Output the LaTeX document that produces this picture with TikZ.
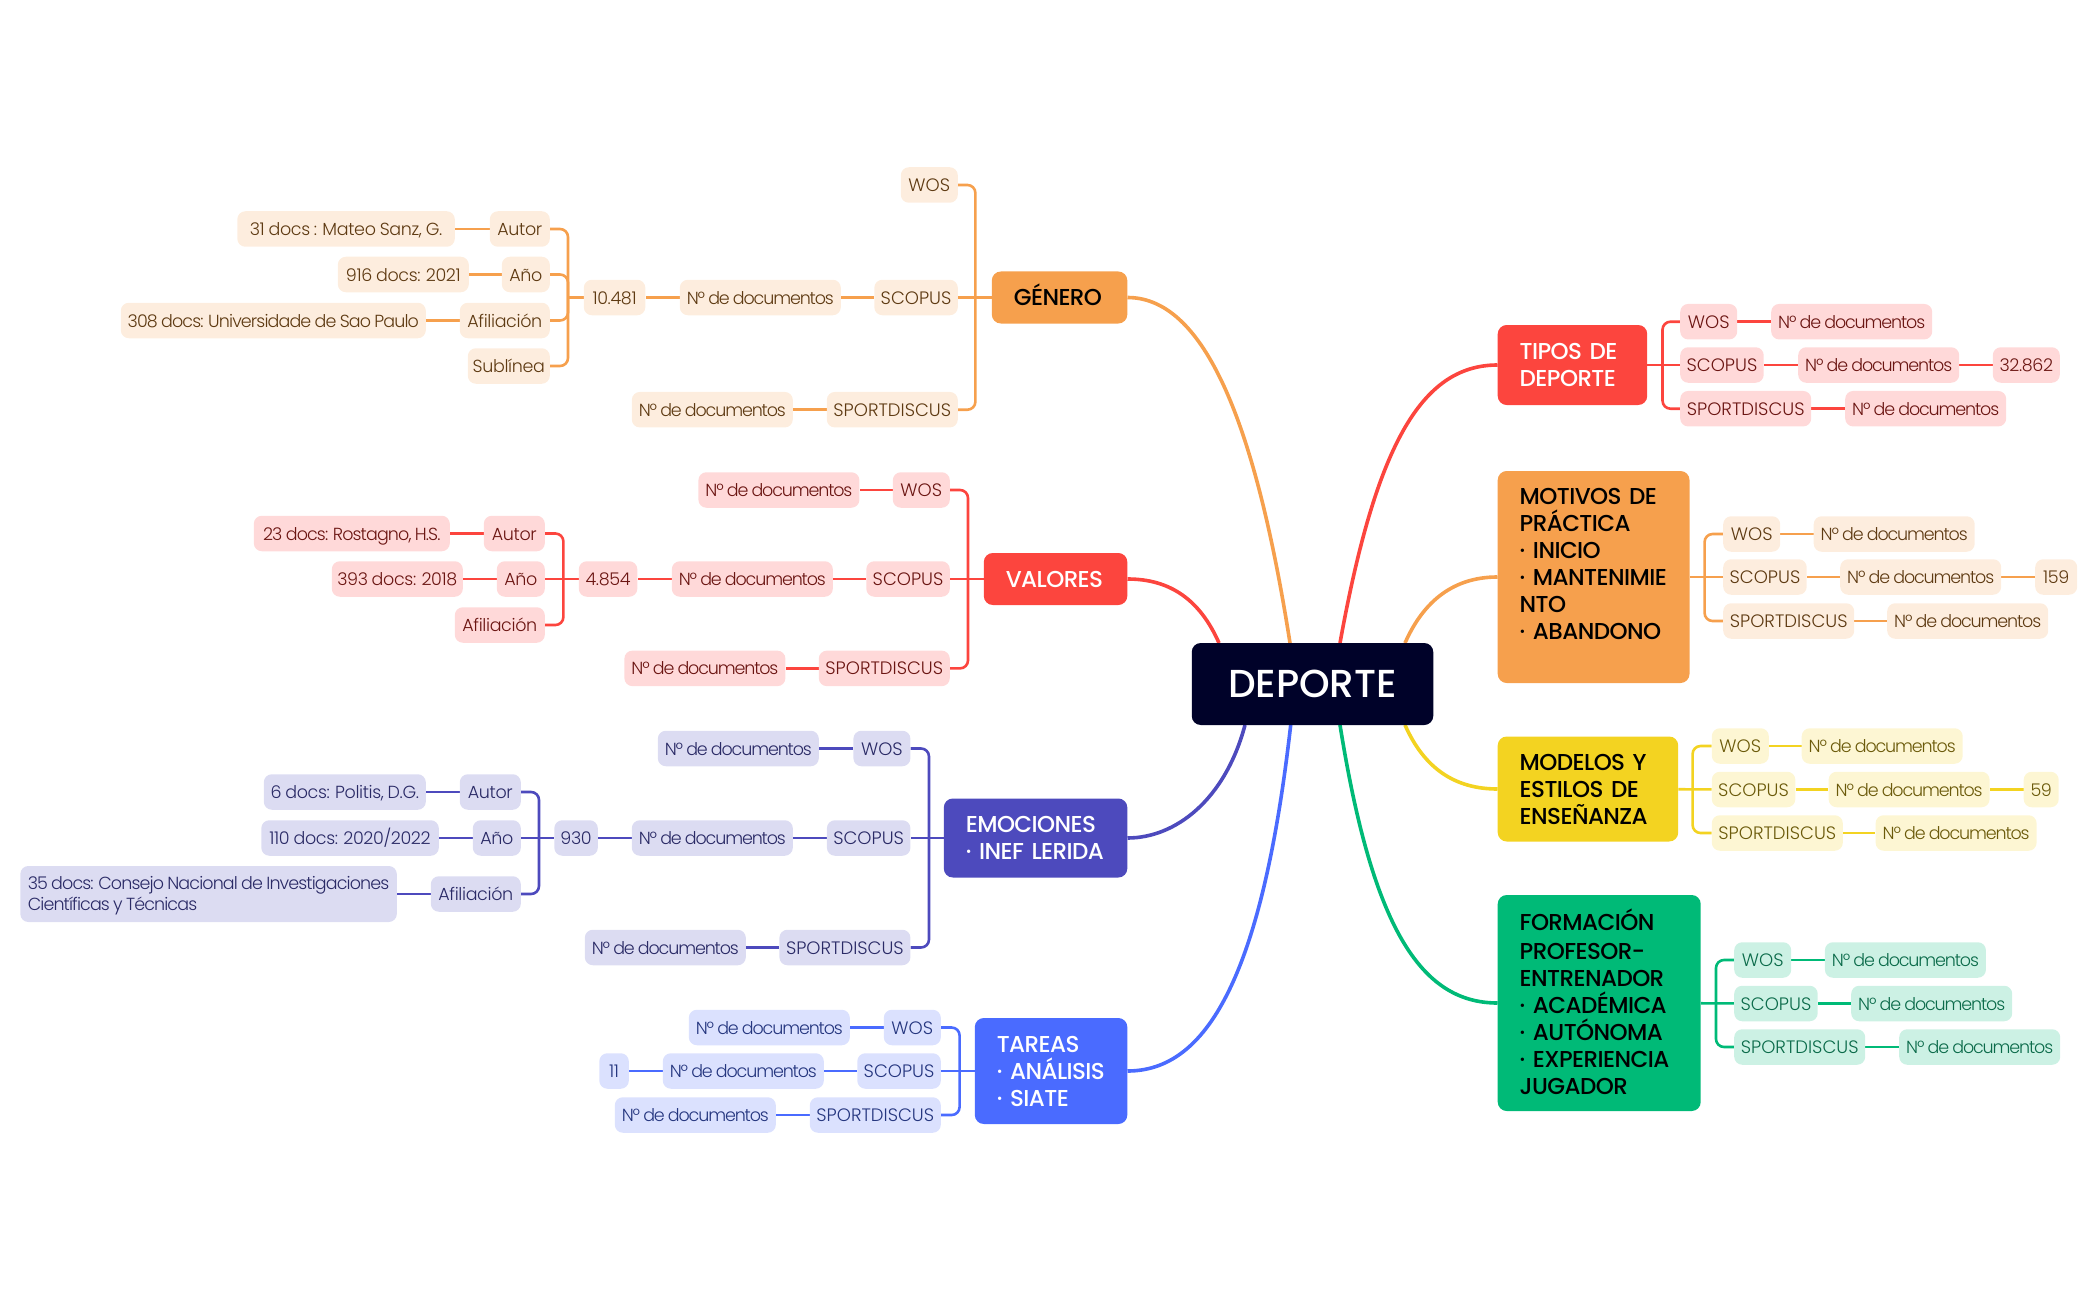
\documentclass[tikz,border=0pt]{standalone}
\usepackage{fontspec}
\setmainfont{Poppins}
\newfontfamily\leaffont[LetterSpace=-6.5,WordSpace=0.85]{Poppins Light}
\newfontfamily\longfont[LetterSpace=-5,WordSpace=0.85]{Poppins Light}
\newfontfamily\datafont[LetterSpace=-2,WordSpace=0.85]{Poppins Light}
\newfontfamily\capsfont{Poppins Light}
\newfontfamily\mainfont[LetterSpace=-2.5,WordSpace=0.75]{Poppins Medium}
\newfontfamily\rootfont{Poppins Medium}
\hyphenpenalty=10000
\exhyphenpenalty=10000
\hbadness=10000
\hfuzz=40pt
\usetikzlibrary{backgrounds}
\definecolor{orM}{HTML}{F6A04D}\definecolor{orL}{HTML}{FDEDDE}\definecolor{orT}{HTML}{5E3A12}
\definecolor{reM}{HTML}{FC453E}\definecolor{reL}{HTML}{FFD9D9}\definecolor{reT}{HTML}{6B1512}
\definecolor{inM}{HTML}{4D4ABD}\definecolor{inL}{HTML}{DCDCF2}\definecolor{inT}{HTML}{2A2A66}
\definecolor{blM}{HTML}{4A6BFF}\definecolor{blL}{HTML}{DBE1FE}\definecolor{blT}{HTML}{25367F}
\definecolor{yeM}{HTML}{F3D321}\definecolor{yeL}{HTML}{FDF6D3}\definecolor{yeT}{HTML}{6B5A0A}
\definecolor{grM}{HTML}{00BA77}\definecolor{grL}{HTML}{CCF1E4}\definecolor{grT}{HTML}{0B6B4A}
\definecolor{rootC}{HTML}{000229}
\tikzset{
  leaf/.style={rounded corners=8pt,inner xsep=0pt,inner ysep=0pt,minimum height=35.5pt,
    text height=15pt,text depth=2pt,minimum width=161pt,
    font=\leaffont\fontsize{17.5}{21}\selectfont,align=left},
  orleaf/.style={leaf,fill=orL,text=orT},
  releaf/.style={leaf,fill=reL,text=reT},
  inleaf/.style={leaf,fill=inL,text=inT},
  blleaf/.style={leaf,fill=blL,text=blT},
  yeleaf/.style={leaf,fill=yeL,text=yeT},
  grleaf/.style={leaf,fill=grL,text=grT},
  wosl/.style={font=\capsfont\fontsize{18}{21}\selectfont,minimum width=57pt},
  scopl/.style={font=\capsfont\fontsize{18}{21}\selectfont,minimum width=83.5pt},
  sportl/.style={font=\capsfont\fontsize{18}{21}\selectfont,minimum width=131pt},
  datal/.style={font=\datafont\fontsize{17.5}{21}\selectfont,minimum width=#1},
  longl/.style={font=\longfont\fontsize{17.5}{21}\selectfont,minimum width=#1},
  topic/.style={rounded corners=9pt,inner xsep=22pt,inner ysep=0pt,align=left,
    font=\mainfont\fontsize{23}{27}\selectfont},
  twig/.style={line width=2.6pt,rounded corners=8pt},
  limb/.style={line width=3.6pt}
}
\begin{document}
\begin{tikzpicture}[x=1pt,y=-1pt]
  \useasboundingbox (0,0) rectangle (2097,1300);
  \node[fill=rootC,text=white,rounded corners=9pt,minimum width=241.5pt,minimum height=82pt,
    font=\rootfont\fontsize{39}{44}\selectfont] (deporte) at (1312.5,684) {DEPORTE};
  % left topics
  \node[topic,fill=orM,text=black,anchor=east,text width=91.5pt,minimum height=52pt,text height=16pt,text depth=0pt] (genero) at (1127.5,297.5) {GÉNERO};
  \node[topic,fill=reM,text=white,anchor=east,text width=99.5pt,minimum height=52pt,text height=16pt,text depth=0pt] (valores) at (1127.5,579) {VALORES};
  \node[topic,fill=inM,text=white,anchor=east,text width=139.5pt,minimum height=79pt] (emociones) at (1127.5,838) {EMOCIONES\\·~INEF~LERIDA};
  \node[topic,fill=blM,text=white,anchor=east,text width=108.5pt,minimum height=106pt] (tareas) at (1127.5,1071) {TAREAS\\·~ANÁLISIS\\·~SIATE};
  % right topics
  \node[topic,fill=reM,text=white,anchor=west,text width=105.5pt,minimum height=80pt] (tipos) at (1497.5,365) {TIPOS DE\\DEPORTE};
  \node[topic,fill=orM,text=black,anchor=west,text width=147.8pt,minimum height=212pt] (motivos) at (1497.5,577) {MOTIVOS~DE\\PRÁCTICA\\·~INICIO\\·~MANTENIMIE\\NTO\\·~ABANDONO\\\mbox{}};
  \node[topic,fill=yeM,text=black,anchor=west,text width=136.5pt,minimum height=105pt] (modelos) at (1497.5,789) {MODELOS~Y\\ESTILOS~DE\\ENSEÑANZA};
  \node[topic,fill=grM,text=black,anchor=west,text width=159pt,minimum height=216pt] (formacion) at (1497.5,1003) {FORMACIÓN\\[2pt]PROFESOR-\\ENTRENADOR\\·~ACADÉMICA\\·~AUTÓNOMA\\·~EXPERIENCIA\\JUGADOR\rule[-3pt]{0pt}{3pt}};
  % genero leaves
  \node[orleaf,wosl,anchor=east] (genWos) at (958,185) {WOS};
  \node[orleaf,scopl,anchor=east] (genScop) at (958,297.5) {SCOPUS};
  \node[orleaf,anchor=east] (genScopN) at (841,297.5) {Nº de documentos};
  \node[orleaf,datal=61.5pt,anchor=east] (genVal) at (645.5,297.5) {10.481};
  \node[orleaf,sportl,anchor=east] (genSport) at (958,409.7) {SPORTDISCUS};
  \node[orleaf,anchor=east] (genSportN) at (793,409.7) {Nº de documentos};
  \node[orleaf,datal=60pt,anchor=east] (genAutor) at (550,229) {Autor};
  \node[orleaf,datal=217.5pt,anchor=east] (genAutorD) at (455,229) {31 docs : Mateo Sanz, G.};
  \node[orleaf,datal=48pt,anchor=east] (genAno) at (550,274.5) {Año};
  \node[orleaf,datal=131pt,anchor=east] (genAnoD) at (469,274.5) {916 docs: 2021};
  \node[orleaf,datal=90pt,anchor=east] (genAfil) at (550,320.5) {Afiliación};
  \node[orleaf,longl=305pt,anchor=east] (genAfilD) at (426,320.5) {308 docs: Universidade de Sao Paulo};
  \node[orleaf,datal=82pt,anchor=east] (genSub) at (550,366) {Sublínea};
  \coordinate (genT) at (975.4,297.5);
  \coordinate (genU) at (568,297.5);
  % valores leaves
  \node[releaf,wosl,anchor=east] (valWos) at (950,490) {WOS};
  \node[releaf,anchor=east] (valWosN) at (859.6,490) {Nº de documentos};
  \node[releaf,scopl,anchor=east] (valScop) at (950,579) {SCOPUS};
  \node[releaf,anchor=east] (valScopN) at (833,579) {Nº de documentos};
  \node[releaf,datal=58.5pt,anchor=east] (valVal) at (637.5,579) {4.854};
  \node[releaf,sportl,anchor=east] (valSport) at (950,668.4) {SPORTDISCUS};
  \node[releaf,anchor=east] (valSportN) at (785.6,668.4) {Nº de documentos};
  \node[releaf,datal=61pt,anchor=east] (valAutor) at (545,533.5) {Autor};
  \node[releaf,longl=196pt,anchor=east] (valAutorD) at (450,533.5) {23 docs: Rostagno, H.S.};
  \node[releaf,datal=48pt,anchor=east] (valAno) at (545,579) {Año};
  \node[releaf,datal=131pt,anchor=east] (valAnoD) at (463,579) {393 docs: 2018};
  \node[releaf,datal=90pt,anchor=east] (valAfil) at (545,625) {Afiliación};
  \coordinate (valT) at (968,579);
  \coordinate (valU) at (563.4,579);
  % emociones leaves
  \node[inleaf,wosl,anchor=east] (emoWos) at (910.6,748.5) {WOS};
  \node[inleaf,anchor=east] (emoWosN) at (819,748.5) {Nº de documentos};
  \node[inleaf,scopl,anchor=east] (emoScop) at (910.6,838) {SCOPUS};
  \node[inleaf,anchor=east] (emoScopN) at (793,838) {Nº de documentos};
  \node[inleaf,datal=43.5pt,anchor=east] (emoVal) at (598,838) {930};
  \node[inleaf,sportl,anchor=east] (emoSport) at (910.6,947.5) {SPORTDISCUS};
  \node[inleaf,anchor=east] (emoSportN) at (746,947.5) {Nº de documentos};
  \node[inleaf,datal=61pt,anchor=east] (emoAutor) at (521,792) {Autor};
  \node[inleaf,datal=162pt,anchor=east] (emoAutorD) at (426,792) {6 docs: Politis, D.G.};
  \node[inleaf,datal=48pt,anchor=east] (emoAno) at (521,838) {Año};
  \node[inleaf,datal=177.5pt,anchor=east] (emoAnoD) at (439,838) {110 docs: 2020/2022};
  \node[inleaf,datal=90pt,anchor=east] (emoAfil) at (521,894) {Afiliación};
  \node[inleaf,longl=376.5pt,anchor=east,minimum height=56pt,text height=,text depth=] (emoAfilD) at (397,894) {\rule{0pt}{16pt}35 docs: Consejo Nacional de Investigaciones\\Científicas y Técnicas};
  \coordinate (emoT) at (929,838);
  \coordinate (emoU) at (539,838);
  % tareas leaves
  \node[blleaf,wosl,anchor=east] (tarWos) at (941,1027.5) {WOS};
  \node[blleaf,anchor=east] (tarWosN) at (850,1027.5) {Nº de documentos};
  \node[blleaf,scopl,anchor=east] (tarScop) at (941,1071) {SCOPUS};
  \node[blleaf,anchor=east] (tarScopN) at (824,1071) {Nº de documentos};
  \node[blleaf,datal=29.5pt,anchor=east] (tarVal) at (629,1071) {11};
  \node[blleaf,sportl,anchor=east] (tarSport) at (941,1115) {SPORTDISCUS};
  \node[blleaf,anchor=east] (tarSportN) at (776,1115) {Nº de documentos};
  \coordinate (tarT) at (959.6,1071);
  % tipos leaves
  \node[releaf,wosl,anchor=west] (tipWos) at (1680,321.7) {WOS};
  \node[releaf,anchor=west] (tipWosN) at (1771,321.7) {Nº de documentos};
  \node[releaf,scopl,anchor=west] (tipScop) at (1680,365) {SCOPUS};
  \node[releaf,anchor=west] (tipScopN) at (1798,365) {Nº de documentos};
  \node[releaf,datal=67pt,anchor=west] (tipVal) at (1992.6,365) {32.862};
  \node[releaf,sportl,anchor=west] (tipSport) at (1680,408.7) {SPORTDISCUS};
  \node[releaf,anchor=west] (tipSportN) at (1845,408.7) {Nº de documentos};
  \coordinate (tipT) at (1662.5,365);
  % motivos leaves
  \node[orleaf,wosl,anchor=west] (motWos) at (1723,534) {WOS};
  \node[orleaf,anchor=west] (motWosN) at (1813.5,534) {Nº de documentos};
  \node[orleaf,scopl,anchor=west] (motScop) at (1723,577) {SCOPUS};
  \node[orleaf,anchor=west] (motScopN) at (1840,577) {Nº de documentos};
  \node[orleaf,datal=42pt,anchor=west] (motVal) at (2035,577) {159};
  \node[orleaf,sportl,anchor=west] (motSport) at (1723,621) {SPORTDISCUS};
  \node[orleaf,anchor=west] (motSportN) at (1887,621) {Nº de documentos};
  \coordinate (motT) at (1704.6,577);
  % modelos leaves
  \node[yeleaf,wosl,anchor=west] (modWos) at (1711.6,746) {WOS};
  \node[yeleaf,anchor=west] (modWosN) at (1801.5,746) {Nº de documentos};
  \node[yeleaf,scopl,anchor=west] (modScop) at (1711.6,789.5) {SCOPUS};
  \node[yeleaf,anchor=west] (modScopN) at (1828.4,789.5) {Nº de documentos};
  \node[yeleaf,datal=35pt,anchor=west] (modVal) at (2023.5,789.5) {59};
  \node[yeleaf,sportl,anchor=west] (modSport) at (1711.6,833) {SPORTDISCUS};
  \node[yeleaf,anchor=west] (modSportN) at (1875.4,833) {Nº de documentos};
  \coordinate (modT) at (1692.6,789.5);
  % formacion leaves
  \node[grleaf,wosl,anchor=west] (forWos) at (1734,960) {WOS};
  \node[grleaf,anchor=west] (forWosN) at (1824.7,960) {Nº de documentos};
  \node[grleaf,scopl,anchor=west] (forScop) at (1734,1003.5) {SCOPUS};
  \node[grleaf,anchor=west] (forScopN) at (1851,1003.5) {Nº de documentos};
  \node[grleaf,sportl,anchor=west] (forSport) at (1734,1047) {SPORTDISCUS};
  \node[grleaf,anchor=west] (forSportN) at (1899,1047) {Nº de documentos};
  \coordinate (forT) at (1716,1003.5);
  % ends of the limbs on the root
  \coordinate (rootA) at (1290,643);
  \coordinate (rootB) at (1219,643);
  \coordinate (rootC) at (1245,725);
  \coordinate (rootD) at (1290.7,725);
  \coordinate (rootE) at (1340,643);
  \coordinate (rootF) at (1405,643);
  \coordinate (rootG) at (1405,725);
  \coordinate (rootH) at (1340,725);
  \begin{scope}[on background layer]
    % limbs
    \draw[limb,orM] (genero.east) .. controls +(82,0) and +(-32,-203) .. (rootA);
    \draw[limb,reM] (valores.east) .. controls +(43,0) and +(-19,-43) .. (rootB);
    \draw[limb,inM] (emociones.east) .. controls +(48,0) and +(-20,75) .. (rootC);
    \draw[limb,blM] (tareas.east) .. controls +(78,0) and +(-29,255) .. (rootD);
    \draw[limb,reM] (tipos.west) .. controls +(-78,0) and +(35,-193) .. (rootE);
    \draw[limb,orM] (motivos.west) .. controls +(-43,0) and +(19,-43) .. (rootF);
    \draw[limb,yeM] (modelos.west) .. controls +(-43,0) and +(19,43) .. (rootG);
    \draw[limb,grM] (formacion.west) .. controls +(-78,0) and +(32,200) .. (rootH);
    % twigs
    \foreach \a/\b in {genero/genScop,genScop/genScopN,genScopN/genVal,genU/genVal,genSport/genSportN,genAutor/genAutorD,genAno/genAnoD,genAfil/genAfilD}
      \draw[twig,orM] (\a) -- (\b);
    \draw[twig,orM] (genWos.east) -| (genT) |- (genSport.east);
    \draw[twig,orM] (genAutor.east) -| (genU) |- (genSub.east);
    \draw[twig,orM] (genAno.east) -| (genU) |- (genAfil.east);
    \foreach \a/\b in {valores/valScop,valScop/valScopN,valScopN/valVal,valAno/valVal,valWos/valWosN,valSport/valSportN,valAutor/valAutorD,valAno/valAnoD}
      \draw[twig,reM] (\a) -- (\b);
    \draw[twig,reM] (valWos.east) -| (valT) |- (valSport.east);
    \draw[twig,reM] (valAutor.east) -| (valU) |- (valAfil.east);
    \foreach \a/\b in {emociones/emoScop,emoScop/emoScopN,emoScopN/emoVal,emoAno/emoVal,emoWos/emoWosN,emoSport/emoSportN,emoAutor/emoAutorD,emoAno/emoAnoD,emoAfil/emoAfilD}
      \draw[twig,inM] (\a) -- (\b);
    \draw[twig,inM] (emoWos.east) -| (emoT) |- (emoSport.east);
    \draw[twig,inM] (emoAutor.east) -| (emoU) |- (emoAfil.east);
    \foreach \a/\b in {tareas/tarScop,tarScop/tarScopN,tarScopN/tarVal,tarWos/tarWosN,tarSport/tarSportN}
      \draw[twig,blM] (\a) -- (\b);
    \draw[twig,blM] (tarWos.east) -| (tarT) |- (tarSport.east);
    \foreach \a/\b in {tipos/tipScop,tipScop/tipScopN,tipScopN/tipVal,tipWos/tipWosN,tipSport/tipSportN}
      \draw[twig,reM] (\a) -- (\b);
    \draw[twig,reM] (tipWos.west) -| (tipT) |- (tipSport.west);
    \foreach \a/\b in {motivos/motScop,motScop/motScopN,motScopN/motVal,motWos/motWosN,motSport/motSportN}
      \draw[twig,orM] (\a) -- (\b);
    \draw[twig,orM] (motWos.west) -| (motT) |- (motSport.west);
    \foreach \a/\b in {modelos/modScop,modScop/modScopN,modScopN/modVal,modWos/modWosN,modSport/modSportN}
      \draw[twig,yeM] (\a) -- (\b);
    \draw[twig,yeM] (modWos.west) -| (modT) |- (modSport.west);
    \foreach \a/\b in {formacion/forScop,forScop/forScopN,forWos/forWosN,forSport/forSportN}
      \draw[twig,grM] (\a) -- (\b);
    \draw[twig,grM] (forWos.west) -| (forT) |- (forSport.west);
  \end{scope}
\end{tikzpicture}
\end{document}
